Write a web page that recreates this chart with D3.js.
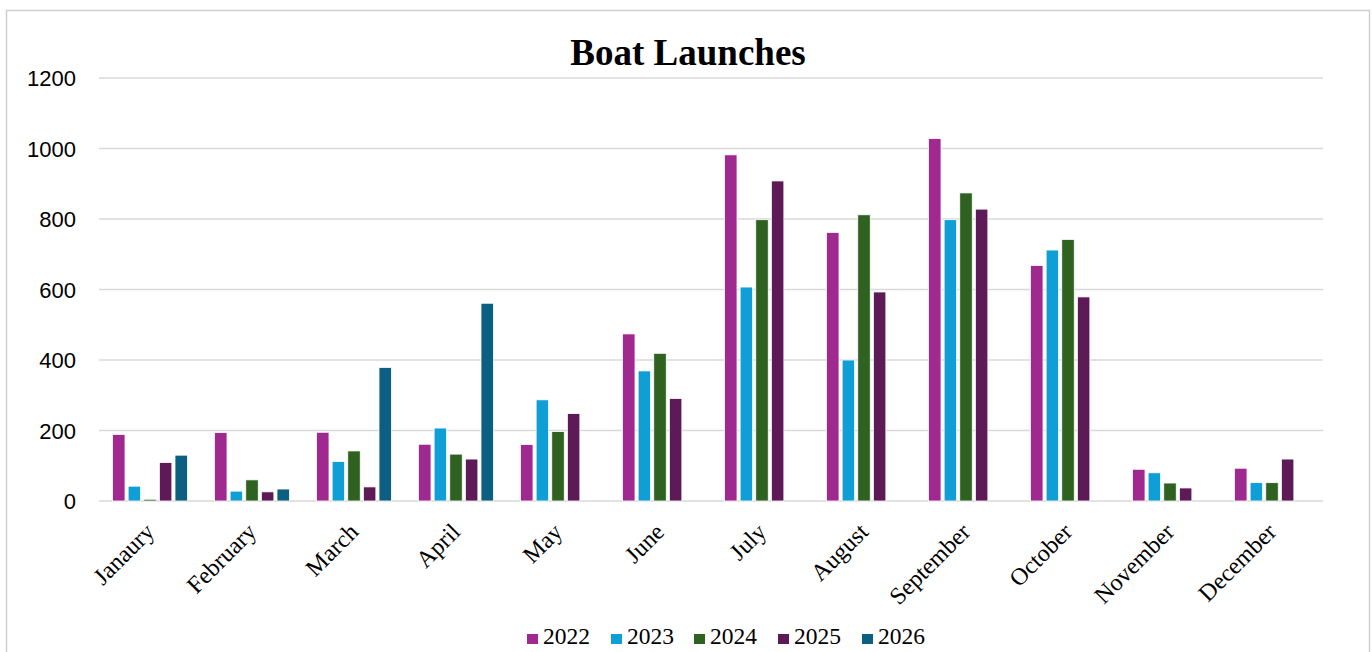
<!DOCTYPE html>
<html>
<head>
<meta charset="utf-8">
<script src="https://cdn.jsdelivr.net/npm/d3@7"></script>
<style>
  html, body { margin: 0; padding: 0; background: #fff; }
  svg { display: block; }
</style>
</head>
<body>
<svg id="chart" width="1372" height="652"></svg>
<script>
const months = ["Janaury","February","March","April","May","June","July","August","September","October","November","December"];
const years = ["2022","2023","2024","2025","2026"];
const values2022 = [189,194,195,161,160,474,982,762,1028,668,90,93];
const values2023 = [42,28,112,207,287,369,607,400,798,712,80,52];
const values2024 = [5,60,142,133,197,419,798,812,874,742,51,52];
const values2025 = [109,26,40,119,248,291,908,593,828,579,37,119];
const values2026 = [130,34,379,561,null,null,null,null,null,null,null,null];
const yTicks = [0,200,400,600,800,1000,1200];
const colors = ["#A0298F","#0F9ED5","#2F6220","#5E1A56","#0C5F81"];

const seriesValues = [values2022, values2023, values2024, values2025, values2026];
const series = years.map((yr, i) => ({ year: yr, color: colors[i], values: seriesValues[i] }));

const svg = d3.select("#chart");
const plotLeft = 99, plotRight = 1323, plotTop = 78, plotBottom = 501;

// chart border
svg.append("rect").attr("x", 6.5).attr("y", 10.5).attr("width", 1363).attr("height", 660)
  .attr("fill", "#fff").attr("stroke", "#d0d0d0").attr("stroke-width", 1.5);

const x0 = d3.scaleBand().domain(months).range([plotLeft, plotRight]).paddingInner(0.265).paddingOuter(0.1325);
const x1 = d3.scaleBand().domain(years).range([0, x0.bandwidth()]).paddingInner(0.2).paddingOuter(0);
const y = d3.scaleLinear().domain([0, 1200]).range([plotBottom, plotTop]);

// gridlines
svg.append("g").selectAll("line").data(yTicks).join("line")
  .attr("x1", plotLeft).attr("x2", plotRight)
  .attr("y1", d => y(d)).attr("y2", d => y(d))
  .attr("stroke", "#d9d9d9").attr("stroke-width", 1.5);

// y axis labels
const yAxis = d3.axisLeft(y).tickValues(yTicks).tickSize(0).tickPadding(0).tickFormat(d3.format("d"));
const gy = svg.append("g").attr("transform", `translate(76,0)`).call(yAxis);
gy.select(".domain").remove();
gy.selectAll("text").attr("font-family", "Liberation Sans, Arial, sans-serif").attr("font-size", 22).attr("fill", "#000").attr("dy", "0.36em");

// bars
const groups = svg.append("g").selectAll("g").data(series).join("g").attr("fill", d => d.color);
groups.selectAll("rect")
  .data(s => s.values.map((v, i) => ({ month: months[i], year: s.year, v })).filter(d => d.v != null))
  .join("rect")
  .attr("x", d => x0(d.month) + x1(d.year))
  .attr("width", x1.bandwidth())
  .attr("y", d => y(d.v))
  .attr("height", d => y(0) - y(d.v))
  .attr("stroke", "#ffffff").attr("stroke-width", 0.8);

// x axis labels
const xAxis = d3.axisBottom(x0).tickSize(0).tickPadding(0);
const gx = svg.append("g").attr("transform", `translate(0,${plotBottom + 14})`).call(xAxis);
gx.select(".domain").remove();
gx.selectAll("text")
  .attr("font-family", "Liberation Serif, Times New Roman, serif").attr("font-size", 24).attr("fill", "#000")
  .attr("text-anchor", "end").attr("x", -9).attr("y", 17).attr("dy", 0)
  .attr("transform", "rotate(-45)");

// title
svg.append("text").attr("x", 688).attr("y", 65).attr("text-anchor", "middle")
  .attr("font-family", "Liberation Serif, Times New Roman, serif").attr("font-weight", "bold").attr("font-size", 37)
  .text("Boat Launches");

// legend
const legendX = [527, 611, 694, 778, 862];
const legend = svg.append("g").selectAll("g").data(series).join("g")
  .attr("transform", (d, i) => `translate(${legendX[i]},644)`);
legend.append("rect").attr("x", 0).attr("y", -10).attr("width", 11).attr("height", 10).attr("fill", d => d.color);
legend.append("text").attr("x", 16).attr("y", 0)
  .attr("font-family", "Liberation Serif, Times New Roman, serif").attr("font-size", 23.5).attr("fill", "#000")
  .text(d => d.year);
</script>
</body>
</html>
